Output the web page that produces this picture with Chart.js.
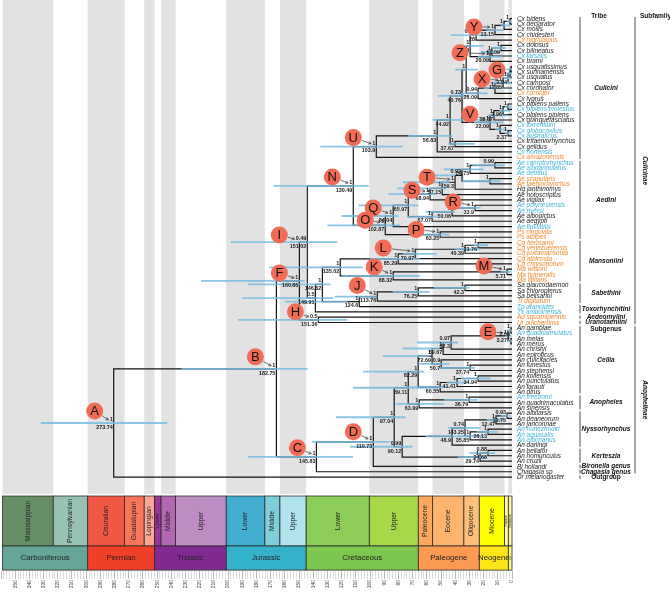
<!DOCTYPE html>
<html>
<head>
<meta charset="utf-8">
<script src="https://cdn.jsdelivr.net/npm/chart.js@4.4.1/dist/chart.umd.min.js"></script>
<style>
  html, body { margin: 0; padding: 0; background: #fff; }
  canvas { display: block; }
</style>
</head>
<body>
<canvas id="tree" width="670" height="593"></canvas>
<script>
// --- tips, top to bottom (name, colour class) ---
const tips = [
  ["Cx bidens","k"],["Cx declarator","k"],["Cx mollis","k"],["Cx chidesteri","k"],["Cx nigripalpus","o"],
  ["Cx dolosus","k"],["Cx bilineatus","k"],["Cx tarsalis","c"],["Cx brami","k"],["Cx usquatissimus","k"],
  ["Cx surinamensis","k"],["Cx usquatus","k"],["Cx camposi","k"],["Cx coronator","k"],["Cx corniger","o"],
  ["Cx lygrus","k"],["Cx pipiens pallens","k"],["Cx pipiens molestus","c"],["Cx pipiens pipiens","k"],
  ["Cx quinquefasciatus","k"],["Cx torrentium","c"],["Cx globocoxitus","c"],["Cx australicus","c"],
  ["Cx tritaeniorhynchus","k"],["Cx gelidus","k"],["Cx hortensis","c"],["Cx amazonensis","o"],
  ["Ae camptorhynchus","c"],["Ae alboannulatus","c"],["Ae detritus","c"],["Ae scapularis","o"],
  ["Ae taeniorhynchus","o"],["Hg janthinomys","k"],["Ae notoscriptus","k"],["Ae vigilax","k"],
  ["Ae polynesiensis","c"],["Ae riversi","c"],["Ae albopictus","k"],["Ae aegypti","k"],["Ae fluviatilis","c"],
  ["Ps cingulata","o"],["Ps albipes","o"],["Cq hermanoi","o"],["Cq venezuelensis","o"],["Cq juxtamansonia","o"],
  ["Cq albicosta","o"],["Cq chrysonotum","o"],["Ma wilsoni","o"],["Ma humeralis","o"],["Ma titillans","o"],
  ["Sa glaucodaemon","k"],["Sa chloropterus","k"],["Sa belisarioi","k"],["Tr digitatum","o"],
  ["Tp aranoides","c"],["Tx amboinensis","c"],["Ad squamipennis","o"],["Ur pulcherrima","o"],
  ["An gambiae","k"],["An quadriannulatus","c"],["An melas","k"],["An merus","k"],["An christyi","k"],
  ["An epiroticus","k"],["An culicifacies","k"],["An funestus","k"],["An stephensi","k"],["An koliensis","k"],
  ["An punctulatus","k"],["An farauti","k"],["An dirus","k"],["An freeborni","c"],["An quadrimaculatus","k"],
  ["An sinensis","k"],["An albitarsis","k"],["An deaneorum","k"],["An janconnae","k"],["An nuneztovari","c"],
  ["An aquasalis","c"],["An albimanus","c"],["An darlingi","k"],["An bellator","k"],["An homunculus","k"],
  ["An cruzii","k"],["Bi hollandi","k"],["Chagasia sp","k"],["Dr melanogaster","k"]
];
const tipColor = { k: "#1c1c1c", o: "#ef8a2e", c: "#3fb3d8" };

// --- internal nodes: id, child, child, age (Ma, as drawn), support, age label, HPD old, HPD young ---
const backboneNodes = [
  ["A","B","Dr melanogaster",280.6,"1","273.74",332,243],
  ["B","F","C",166.0,"1","182.75",233,144],
  ["F","I","H",149.8,"1","160.86",219,146],
  ["H","Ad squamipennis","Ur pulcherrima",136.4,"0.5","151.36",193,116],
  ["I","N","N149",144.2,"0.49","151.02",198,123],
  ["N149","N146","Tx amboinensis",138.5,"0.5","149.91",190,126],
  ["N146","Mans","N124",133.6,"1","146.62",186,128],
  ["N124","J","Tp aranoides",107.6,"1","124.6",160,116],
  ["J","Sa2","Tr digitatum",94.9,"1","113.76",125,95],
  ["Sa2","Sa1","Sa belisarioi",66.1,"1","76.25",84,58],
  ["Sa1","Sa glaucodaemon","Sa chloropterus",33.1,"1","42.3",55,30]
];
const mansoniiniNodes = [
  ["Mans","N85","K",121.0,"1","135.02",171,105],
  ["N85","L","Cq chrysonotum",80.2,"1","85.29",100,65],
  ["L","Cq2","Cq albicosta",68.2,"1","70.97",77,53],
  ["Cq2","Cq1","Cq juxtamansonia",33.1,"1","40.39",40,22],
  ["Cq1","Cq hermanoi","Cq venezuelensis",23.9,"1","33.76",27,17],
  ["K","M","Ma titillans",83.7,"1","88.32",120,65],
  ["M","Ma wilsoni","Ma humeralis",3.5,"1","5.71",8,0.5]
];
const culiciniNodes = [
  ["N","U","O",111.8,"1","130.49",168,101],
  ["U","N56","Cx amazonensis",95.6,"1","103.9",135,77],
  ["N56","N44","Cx hortensis",52.7,"1","56.83",73,42],
  ["N44","N40","N37",43.6,"1","44.92",56,20],
  ["N37","Cx tritaeniorhynchus","Cx gelidus",40.1,"1","37.67",45,26],
  ["N40","N29","V",35.2,"0.73","40.76",52,30],
  ["N29","YZ","N26",32.3,"1","",40,24],
  ["YZ","Y0","Z",29.5,"1","29.09",38,20],
  ["Y0","Y","Cx nigripalpus",25.3,"0.89","28",43,17],
  ["Y","Y2","Cx chidesteri",12.0,"1","13.15",18,6],
  ["Y2","Y1","Cx mollis",5.6,"1","",8,1],
  ["Y1","Cx bidens","Cx declarator",1.4,"1","",4,0],
  ["Z","Z2","Cx brami",15.5,"1","20.09",24,7],
  ["Z2","Z1","Cx tarsalis",14.1,"1","",22,8],
  ["Z1","Cx dolosus","Cx bilineatus",7.7,"1","10.09",14,4],
  ["N26","X2","Cx lygrus",23.9,"0.94","26.09",40,17],
  ["X2","X","Cx corniger",12.0,"1","",20,6],
  ["X","G","Cx coronator",6.3,"1","11.85",15,0.5],
  ["G","G2","Cx camposi",2.8,"1","2.94",6,0.5],
  ["G2","G1","Cx usquatus",1.4,"","",5,0],
  ["G1","Cx usquatissimus","Cx surinamensis",0.7,"","",4,0],
  ["V","P3","TGA",15.5,"1","22.09",27,6],
  ["P3","P2","Cx quinquefasciatus",12.7,"1","13.37",17,3],
  ["P2","P1","Cx pipiens pipiens",6.3,"1","3.96",9,1],
  ["P1","Cx pipiens pallens","Cx pipiens molestus",2.8,"1","",5,0],
  ["TGA","Cx torrentium","GA",8.4,"1","",12,3],
  ["GA","Cx globocoxitus","Cx australicus",2.8,"1","2.37",5,0.5]
];
const aediniNodes = [
  ["O","Q","P",89.3,"1","102.87",130,79],
  ["P","Ps cingulata","Ps albipes",50.6,"1","63.25",63,44],
  ["Q","N65","Ae fluviatilis",83.7,"1","84.04",120,80],
  ["N65","S","N67",73.1,"1","65.97",108,66],
  ["S","T5","Ae vigilax",57.7,"1","68.94",87,53],
  ["T5","T","Ae notoscriptus",49.2,"1","57.15",81,46],
  ["T","T4","Hg janthinomys",40.1,"1","59.3",77,44],
  ["T4","T2","T3",35.2,"0.92","",65,40],
  ["T2","T1","Ae detritus",29.5,"1","54.75",48,20],
  ["T1","Ae camptorhynchus","Ae alboannulatus",12.0,"0.99","",28,5],
  ["T3","Ae scapularis","Ae taeniorhynchus",15.5,"1","",35,8],
  ["N67","N50","Ae aegypti",56.3,"1","67.07",74,52],
  ["N50","R","Ae albopictus",42.2,"1","50.06",61,40],
  ["R","Ae polynesiensis","Ae riversi",26.0,"1","33.9",38,22]
];
const anophelinaeNodes = [
  ["C","D","Chagasia sp",137.8,"1","145.83",186,112],
  ["D","An97","Bi hollandi",97.7,"1","110.73",141,86],
  ["An97","N89","N90",83.0,"1","97.04",124,75],
  ["N89","Cel","N63",73.1,"1","89.11",112,52],
  ["Cel","N72","N60",66.1,"1","82.29",105,62],
  ["N72","N59","Ncul",56.3,"1","72.69",91,58],
  ["N59","N62","An epiroticus",48.5,"1","59.67",77,51],
  ["N62","E","An christyi",42.9,"0.97","62.3",67,38],
  ["E","Eg","Em",2.8,"1","3.27",5,0.5],
  ["Eg","An gambiae","An quadriannulatus",0.7,"1","2.08",3,0],
  ["Em","An melas","An merus",0.7,"1","",3,0],
  ["Ncul","An culicifacies","Nfs",49.9,"0.9","50.7",66,44],
  ["Nfs","An funestus","An stephensi",29.5,"1","37.74",51,26],
  ["N60","N41","An dirus",50.6,"1","60.55",75,44],
  ["N41","Nkp","An farauti",38.7,"1","41.41",46,31],
  ["Nkp","An koliensis","An punctulatus",23.9,"1","34.94",36,15],
  ["N63","N36","An sinensis",65.4,"1","63.99",82,48],
  ["N36","An freeborni","An quadrimaculatus",30.2,"1","36.79",48,24],
  ["N90","N48","Kert",77.4,"0.99","90.12",114,70],
  ["N48","Nny","An darlingi",42.2,"1","48.9",61,30],
  ["Nny","Nadj","Nnaa",33.1,"0.74","43.25",45,22],
  ["Nadj","Nad","An janconnae",11.3,"1","12.47",18,5],
  ["Nad","An albitarsis","An deaneorum",3.5,"0.93","10.75",8,1],
  ["Nnaa","Nna","An albimanus",29.5,"1","35.85",38,20],
  ["Nna","An nuneztovari","An aquasalis",16.9,"1","26.13",25,10],
  ["Kert","Nbh","An cruzii",22.5,"1","29.74",38,17.6],
  ["Nbh","An bellator","An homunculus",16.9,"0.88","24.68",30,12]
];

// lettered nodes (letter -> node id)
const letterNodes = { A:"A",B:"B",C:"C",D:"D",E:"E",F:"F",G:"G",H:"H",I:"I",J:"J",K:"K",L:"L",M:"M",
  N:"N",O:"O",P:"P",Q:"Q",R:"R",S:"S",T:"T",U:"U",V:"V",X:"X",Y:"Y",Z:"Z" };
// where each red disc sits relative to its node, in pixels (layout only)
const calloutOffset = { A:[-19,-12],B:[-21,-12],C:[-19,-9],D:[-20,-10],E:[-20,-4],F:[-20,-8],G:[-11,-8],
  H:[-23,-8],I:[-28,-7],J:[-20,-11],K:[-19,-9],L:[-32,-6],M:[-23,-6],N:[-21,-9],O:[-20,-5],P:[-24,-5],
  Q:[-20,-8],R:[-22,-6],S:[-18,-4],T:[-28,-5],U:[-23,-9],V:[-20,-8],X:[-21,-4],Y:[-21,-3],Z:[-30,-4] };

// tribes / subfamilies (name, first tip, last tip)
const tribes = [
  ["Culicini",0,26],["Aedini",27,41],["Mansoniini",42,49],["Sabethini",50,53],["Toxorhynchitini",54,55],
  ["Aedeomyiini",56,56],["Uranotaeniini",57,57],["Cellia",58,70],["Anopheles",71,73],["Nyssorhynchus",74,80],
  ["Kerteszia",81,83],["Bironella genus",84,84],["Chagasia genus",85,85],["Outgroup",86,86]
];
const subfamilies = [["Culicinae",0,57],["Anophelinae",58,85]];

// geological time scale (Ma)
const epochNames = ["Mississippian","Pennsylvanian","Cisuralian","Guadalupian","Lopingian","Lower","Middle","Upper",
  "Lower","Middle","Upper","Lower","Upper","Paleocene","Eocene","Oligocene","Miocene","Pliocene","Pleistocene"];
const epochStart = [358.9,323.2,298.9,272.95,259.1,251.9,247.2,237,201.3,174.1,163.5,145,100.5,66,56,33.9,23.03,5.333,2.58];
const epochEnd   = [323.2,298.9,272.95,259.1,251.9,247.2,237,201.3,174.1,163.5,145,100.5,66,56,33.9,23.03,5.333,2.58,0];
const epochColors = ["#678f66","#99c2b5","#ef5845","#fb745c","#fba794","#983999","#b168b1","#bd8cc3","#42aed0",
  "#80cfd8","#b3e3ee","#8ccd57","#a6d84a","#fda75f","#fdb46c","#fdc07a","#ffff00","#ffff99","#fff2ae"];
const periodNames = ["Carboniferous","Permian","Triassic","Jurassic","Cretaceous","Paleogene","Neogene","Q"];
const periodStart = [358.9,298.9,251.9,201.3,145,66,23.03,2.58];
const periodEnd   = [298.9,251.9,201.3,145,66,23.03,2.58,0];
const periodColors = ["#67a599","#f04028","#812b92","#34b2c9","#7fc64e","#fd9a52","#ffe619","#f9f97f"];

// rows of the time scale, in tip-row units of the y scale
const epochRow = [89.55, 98.93];
const periodRow = [98.93, 103.45];

// --- build the tree geometry ---
const allNodes = [...backboneNodes, ...mansoniiniNodes, ...culiciniNodes, ...aediniNodes, ...anophelinaeNodes];
const nodeById = {};
allNodes.forEach(r => nodeById[r[0]] = r);
const tipIndex = {};
tips.forEach((t, i) => tipIndex[t[0]] = i);

function yOf(id) {
  if (id in tipIndex) return tipIndex[id];
  const r = nodeById[id];
  return (yOf(r[1]) + yOf(r[2])) / 2;
}
function ageOf(id) { return id in tipIndex ? 0 : nodeById[id][3]; }
const gap = () => ({ x: NaN, y: NaN });

const branchPts = [], hpdPts = [];
allNodes.forEach(r => {
  const [id, a, b, age] = r;
  branchPts.push({ x: age, y: yOf(a) }, { x: age, y: yOf(b) }, gap());
  [a, b].forEach(k => branchPts.push({ x: age, y: yOf(k) }, { x: ageOf(k), y: yOf(k) }, gap()));
  hpdPts.push({ x: r[6], y: yOf(id) }, { x: r[7], y: yOf(id) }, gap());
});

const FONT = "'Liberation Sans', Arial, sans-serif";
Chart.defaults.font.family = FONT;

// bands + time scale boxes, drawn under the tree
const timeScalePlugin = {
  id: "timeScale",
  beforeDatasetsDraw(chart) {
    const { ctx, chartArea: ca, scales: { x, y } } = chart;
    const eTop = y.getPixelForValue(epochRow[0]), eBot = y.getPixelForValue(epochRow[1]);
    const pBot = y.getPixelForValue(periodRow[1]);
    ctx.save();
    // alternating grey bands
    epochNames.forEach((n, i) => {
      if (i % 2) return;
      const x0 = x.getPixelForValue(epochStart[i]), x1 = x.getPixelForValue(epochEnd[i]);
      ctx.fillStyle = "#e2e2e2";
      ctx.fillRect(x0, ca.top, x1 - x0, eTop - 2 - ca.top);
    });
    ctx.lineWidth = 0.8;
    ctx.strokeStyle = "#2a2a2a";
    epochNames.forEach((n, i) => {
      const x0 = x.getPixelForValue(epochStart[i]), x1 = x.getPixelForValue(epochEnd[i]);
      ctx.fillStyle = epochColors[i];
      ctx.fillRect(x0, eTop, x1 - x0, eBot - eTop);
      ctx.strokeRect(x0, eTop, x1 - x0, eBot - eTop);
      const w = x1 - x0;
      const fs = Math.min(6.8, w - 1);
      ctx.save();
      ctx.translate((x0 + x1) / 2, (eTop + eBot) / 2);
      ctx.rotate(-Math.PI / 2);
      ctx.fillStyle = "#222";
      ctx.font = fs + "px " + FONT;
      ctx.textAlign = "center";
      ctx.textBaseline = "middle";
      ctx.fillText(n, 0, 0);
      ctx.restore();
    });
    periodNames.forEach((n, i) => {
      const x0 = x.getPixelForValue(periodStart[i]), x1 = x.getPixelForValue(periodEnd[i]);
      ctx.fillStyle = periodColors[i];
      ctx.fillRect(x0, eBot, x1 - x0, pBot - eBot);
      ctx.strokeRect(x0, eBot, x1 - x0, pBot - eBot);
      ctx.fillStyle = "#222";
      ctx.textAlign = "center";
      ctx.textBaseline = "middle";
      ctx.font = (x1 - x0 < 10 ? 3.5 : 7.8) + "px " + FONT;
      ctx.fillText(n, (x0 + x1) / 2, (eBot + pBot) / 2);
    });
    ctx.restore();
  }
};

// tip names, node labels, callouts, tribe column
const labelPlugin = {
  id: "treeLabels",
  afterDatasetsDraw(chart) {
    const { ctx, chartArea: ca, scales: { x, y } } = chart;
    ctx.save();
    // node support / age
    const nodeFont = "bold 5.4px " + FONT;
    ctx.font = nodeFont;
    ctx.fillStyle = "#1a1a1a";
    ctx.textAlign = "right";
    allNodes.forEach(r => {
      const px = x.getPixelForValue(r[3]), py = y.getPixelForValue(yOf(r[0]));
      if (r[4]) { ctx.textBaseline = "bottom"; ctx.fillText(r[4], px - 1, py - 0.8); }
      if (r[5]) { ctx.textBaseline = "top"; ctx.fillText(r[5], px - 1, py + 1.6); }
    });
    // tips
    ctx.textAlign = "left";
    ctx.textBaseline = "middle";
    ctx.font = "italic 6.4px " + FONT;
    tips.forEach((t, i) => {
      ctx.fillStyle = tipColor[t[1]];
      ctx.fillText(t[0], ca.right + 5, y.getPixelForValue(i) + 0.3);
    });
    // callout discs with arrows
    Object.keys(letterNodes).forEach(letter => {
      const id = letterNodes[letter];
      const r = nodeById[id];
      const px = x.getPixelForValue(r[3]), py = y.getPixelForValue(yOf(id));
      const [dx, dy] = calloutOffset[letter];
      const cx = px + dx, cy = py + dy, rad = 8.5;
      ctx.font = nodeFont;
      const tw = r[4] ? ctx.measureText(r[4]).width : 0;
      const ex = px - tw - 2.2, ey = py - 3;
      const ang = Math.atan2(ey - cy, ex - cx);
      const sx = cx + Math.cos(ang) * (rad + 0.5), sy = cy + Math.sin(ang) * (rad + 0.5);
      ctx.strokeStyle = "#333";
      ctx.lineWidth = 0.7;
      ctx.beginPath(); ctx.moveTo(sx, sy); ctx.lineTo(ex, ey); ctx.stroke();
      ctx.beginPath();
      ctx.moveTo(ex, ey);
      ctx.lineTo(ex - 3 * Math.cos(ang - 0.5), ey - 3 * Math.sin(ang - 0.5));
      ctx.moveTo(ex, ey);
      ctx.lineTo(ex - 3 * Math.cos(ang + 0.5), ey - 3 * Math.sin(ang + 0.5));
      ctx.stroke();
      ctx.fillStyle = "#f26b55";
      ctx.beginPath(); ctx.arc(cx, cy, rad, 0, Math.PI * 2); ctx.fill();
      ctx.fillStyle = "#111";
      ctx.font = "13px " + FONT;
      ctx.textAlign = "center";
      ctx.textBaseline = "middle";
      ctx.fillText(letter, cx, cy + 0.5);
    });
    // tribe column
    const tribeLineX = ca.right + 68, tribeTextX = ca.right + 94;
    const subLineX = ca.right + 123, subTextX = ca.right + 133;
    const half = 2.3;
    ctx.strokeStyle = "#222";
    ctx.lineWidth = 0.8;
    ctx.fillStyle = "#111";
    ctx.textAlign = "center";
    ctx.textBaseline = "middle";
    tribes.forEach(t => {
      const y0 = y.getPixelForValue(t[1]) - half, y1 = y.getPixelForValue(t[2]) + half;
      ctx.beginPath(); ctx.moveTo(tribeLineX, y0 + 0.6); ctx.lineTo(tribeLineX, y1 - 0.6); ctx.stroke();
      ctx.font = (t[0] === "Outgroup" ? "bold " : "bold italic ") + "6.5px " + FONT;
      ctx.fillText(t[0], tribeTextX, (y0 + y1) / 2);
    });
    ctx.font = "bold 6.5px " + FONT;
    ctx.fillText("Subgenus", tribeTextX, y.getPixelForValue(58.2));
    ctx.fillText("Tribe", tribeTextX - 7, ca.top + 16);
    ctx.textAlign = "left";
    ctx.fillText("Subfamily", subLineX + 5, ca.top + 16);
    subfamilies.forEach(s => {
      const y0 = y.getPixelForValue(s[1]) - half, y1 = y.getPixelForValue(s[2]) + half;
      ctx.beginPath(); ctx.moveTo(subLineX, y0 + 0.6); ctx.lineTo(subLineX, y1 - 0.6); ctx.stroke();
      ctx.save();
      ctx.translate(subTextX, (y0 + y1) / 2);
      ctx.rotate(Math.PI / 2);
      ctx.font = "bold italic 6.5px " + FONT;
      ctx.textAlign = "center";
      ctx.fillText(s[0], 0, 0);
      ctx.restore();
    });
    ctx.restore();
  }
};

new Chart(document.getElementById("tree"), {
  type: "scatter",
  data: {
    datasets: [
      { label: "95% HPD", data: hpdPts, showLine: true, spanGaps: false, pointRadius: 0,
        borderColor: "rgba(118,188,226,0.85)", borderWidth: 1.8, borderCapStyle: "butt", order: 0 },
      { label: "branches", data: branchPts, showLine: true, spanGaps: false, pointRadius: 0,
        borderColor: "#151515", borderWidth: 1.2, borderCapStyle: "square", order: 1 }
    ]
  },
  options: {
    responsive: false,
    animation: false,
    devicePixelRatio: 1,
    layout: { padding: { left: 0, right: 158, top: 0, bottom: 0 } },
    plugins: { legend: { display: false }, tooltip: { enabled: false } },
    scales: {
      x: {
        type: "linear", reverse: true, min: 0, max: 360,
        afterFit(s) { s.height = 22; },
        border: { display: false },
        grid: {
          drawOnChartArea: false, drawTicks: true, tickLength: 8, tickWidth: 0.7,
          color: c => (c.tick && c.tick.value % 10 === 0) ? "#9a9a9a" : "#cfcfcf"
        },
        ticks: {
          stepSize: 2, autoSkip: false, minRotation: 90, maxRotation: 90, padding: 1,
          color: "#444", font: { size: 5 },
          callback: v => (v % 10 === 0 && v !== 360) ? String(v) : ""
        }
      },
      y: { type: "linear", reverse: true, min: -3.51, max: 103.62, display: false }
    }
  },
  plugins: [timeScalePlugin, labelPlugin]
});
</script>
</body>
</html>
